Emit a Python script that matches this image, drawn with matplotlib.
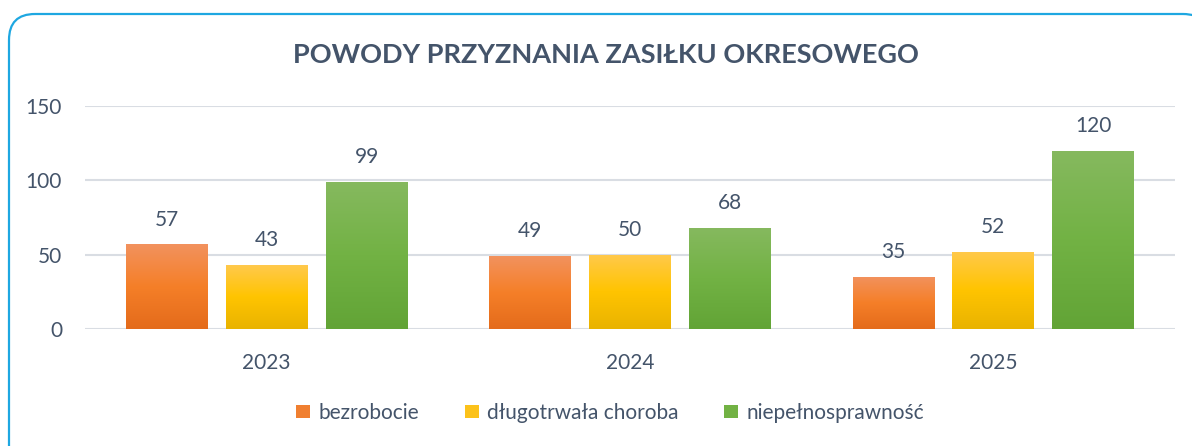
import matplotlib
matplotlib.use("Agg")
import matplotlib.pyplot as plt
import numpy as np
from matplotlib.colors import LinearSegmentedColormap
from matplotlib.patches import FancyBboxPatch

years = ["2023", "2024", "2025"]
series_names = ["bezrobocie", "długotrwała choroba", "niepełnosprawność"]
bezrobocie = [57, 49, 35]
choroba = [43, 50, 52]
niepelno = [99, 68, 120]
yticks = [0, 50, 100, 150]
title = "POWODY PRZYZNANIA ZASIŁKU OKRESOWEGO"

grad = [
    ["#e46b1b", "#f57f28", "#f2925e"],
    ["#e9b300", "#ffc400", "#ffc94c"],
    ["#62a436", "#72b244", "#86b95f"],
]
flat = ["#f07f30", "#fcc21a", "#72b244"]
TXT = "#44546a"
FONT = "Lato"
FS = 15

W, H, DPI = 1192, 446, 100
fig = plt.figure(figsize=(W / DPI, H / DPI), dpi=DPI)

# background frame axes in pixel coords
bg = fig.add_axes([0, 0, 1, 1])
bg.set_xlim(0, W)
bg.set_ylim(H, 0)
bg.axis("off")
frame = FancyBboxPatch((9, 14), 1200, 460, boxstyle="round,pad=0,rounding_size=26",
                       fill=False, edgecolor="#1ea7e1", linewidth=1.6)
bg.add_patch(frame)

# main axes: x from 85 to 1175 px, y0 at 329, y150 at 106
left, right = 85 / W, 1175 / W
ybot = (H - 329) / H
ytop = (H - 106) / H
ax = fig.add_axes([left, ybot, right - left, ytop - ybot])
ax.set_xlim(-0.5, 2.5)
ax.set_ylim(0, 150)
ax.set_yticks(yticks)
ax.set_yticklabels([str(v) for v in yticks])
for s in ax.spines.values():
    s.set_visible(False)
ax.tick_params(axis="both", length=0, labelsize=FS, labelcolor=TXT)
ax.tick_params(axis="y", pad=16.5)
ax.tick_params(axis="x", pad=17)
ax.yaxis.grid(True, color="#d9dde3", linewidth=1.5)
ax.set_axisbelow(True)
ax.patch.set_alpha(0)

x = np.arange(len(years))
bw = 0.225
step = 0.275
data = [bezrobocie, choroba, niepelno]
grad_img = np.linspace(0, 1, 256).reshape(-1, 1)
for i, vals in enumerate(data):
    pos = x + (i - 1) * step
    bars = ax.bar(pos, vals, width=bw, color=flat[i], label=series_names[i], zorder=2)
    cmap = LinearSegmentedColormap.from_list(f"g{i}", grad[i])
    for b, v in zip(bars, vals):
        x0 = b.get_x()
        im = ax.imshow(grad_img, extent=[x0, x0 + bw, 0, v], origin="lower",
                       cmap=cmap, aspect="auto", zorder=3)
        im.set_clip_path(b)
        ax.annotate(str(v), (b.get_x() + bw / 2, v), xytext=(0, 13.5),
                    textcoords="offset points", ha="center", va="baseline",
                    fontsize=FS, color=TXT, fontfamily=FONT)
ax.set_xticks(x)
ax.set_xticklabels(years)
for lab in ax.get_yticklabels() + ax.get_xticklabels():
    lab.set_fontfamily(FONT)
ax.set_xlim(-0.5, 2.5)
ax.set_ylim(0, 150)

fig.text(606 / W, 1 - 55 / H, title, ha="center", va="center", fontsize=19.5,
         fontweight="bold", color=TXT, fontfamily=FONT)

handles = [plt.Rectangle((0, 0), 1, 1, facecolor=flat[i]) for i in range(3)]
leg = fig.legend(handles, series_names, loc="center", bbox_to_anchor=(610 / W, 1 - 413 / H),
                 ncol=3, frameon=False, handlelength=0.67, handleheight=0.63,
                 handletextpad=0.4, columnspacing=2.2,
                 prop={"family": FONT, "size": FS})
for t in leg.get_texts():
    t.set_color(TXT)

fig.savefig("out.png", dpi=DPI)
